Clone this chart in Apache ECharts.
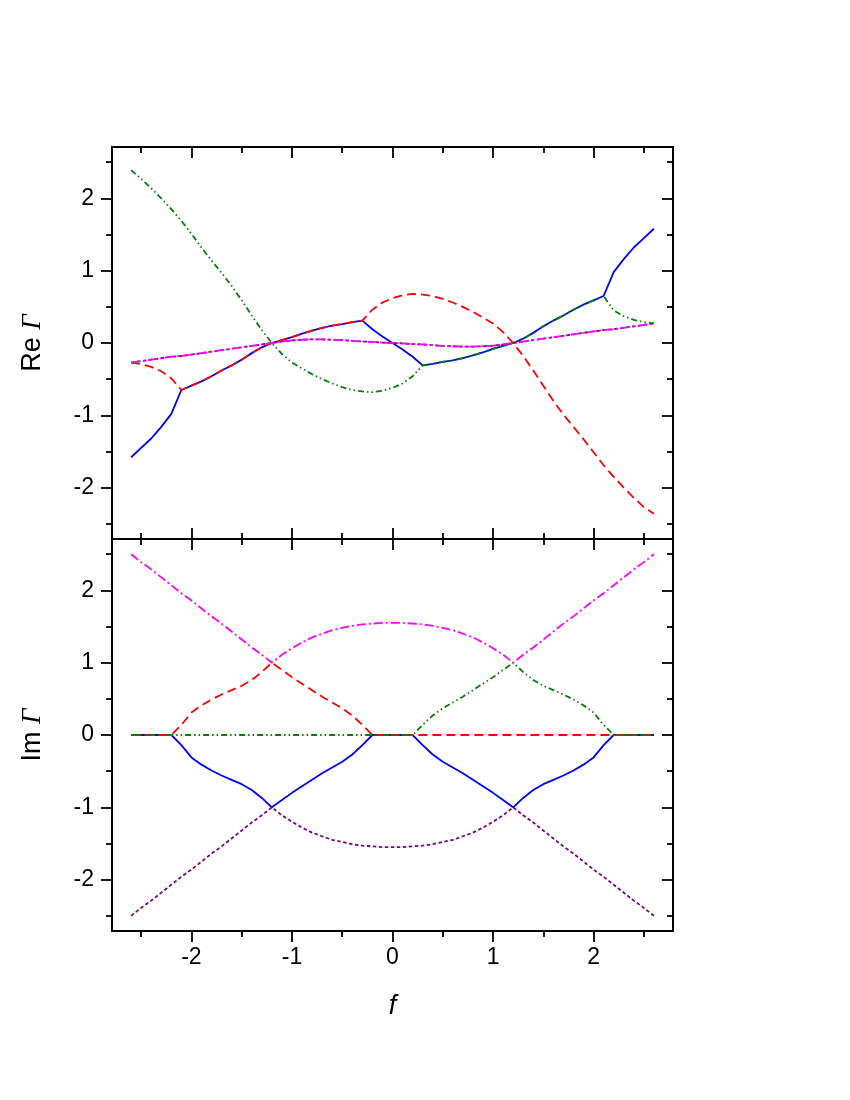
<!DOCTYPE html>
<html>
<head>
<meta charset="utf-8">
<script src="https://cdn.jsdelivr.net/npm/echarts@6/dist/echarts.min.js"></script>
<style>
html, body { margin: 0; background: #fff; }
#main { width: 850px; height: 1100px; }
</style>
</head>
<body>
<div id="main"></div>
<script>
// sample points of f
var xs = [-2.6,-2.5,-2.4,-2.3,-2.2,-2.1,-2.0,-1.9,-1.8,-1.7,-1.6,-1.5,-1.4,-1.3,-1.2,-1.1,-1.0,-0.9,-0.8,-0.7,-0.6,-0.5,-0.4,-0.3,-0.2,-0.1,
    0,
    0.1,0.2,0.3,0.4,0.5,0.6,0.7,0.8,0.9,1.0,1.1,1.2,1.3,1.4,1.5,1.6,1.7,1.8,1.9,2.0,2.1,2.2,2.3,2.4,2.5,2.6];

// Re Gamma
var reBlue = [-1.58,-1.45,-1.32,-1.16,-0.98, -0.65,-0.59,-0.53,-0.46,-0.38, -0.31,-0.23,-0.14,-0.06,0.00, 0.04,0.08,0.13,0.17,0.21, 0.24,0.26,0.29,0.31,0.19, 0.09,
    0.00,
    -0.09,-0.19,-0.31,-0.29,-0.26, -0.24,-0.21,-0.17,-0.13,-0.08, -0.04,0.00,0.06,0.14,0.23, 0.31,0.38,0.46,0.53,0.59, 0.65,0.98,1.16,1.32,1.45, 1.58];
var reRed = [-0.27,-0.29,-0.33,-0.39,-0.49, -0.65,-0.59,-0.53,-0.46,-0.38, -0.31,-0.23,-0.14,-0.06,0.00, 0.04,0.08,0.13,0.17,0.21, 0.24,0.26,0.29,0.31,0.46, 0.56,
    0.62,
    0.66,0.68,0.67,0.65,0.61, 0.56,0.50,0.43,0.35,0.27, 0.15,0.00,-0.18,-0.38,-0.59, -0.80,-0.99,-1.16,-1.33,-1.51, -1.69,-1.85,-2.00,-2.14,-2.27, -2.36];
var reGreen = [2.39,2.27,2.14,2.00,1.85, 1.69,1.51,1.32,1.14,0.97, 0.79,0.59,0.38,0.18,0.00, -0.15,-0.27,-0.35,-0.43,-0.50, -0.56,-0.61,-0.65,-0.67,-0.68, -0.66,
    -0.62,
    -0.56,-0.46,-0.31,-0.29,-0.26, -0.24,-0.21,-0.17,-0.13,-0.08, -0.04,0.00,0.06,0.14,0.23, 0.31,0.38,0.46,0.53,0.59, 0.65,0.45,0.37,0.32,0.29, 0.27];
var reMagenta = [-0.27,-0.25,-0.23,-0.21,-0.19, -0.18,-0.16,-0.14,-0.12,-0.10, -0.08,-0.06,-0.04,-0.02,0.00, 0.02,0.035,0.045,0.05,0.05, 0.045,0.04,0.03,0.02,0.015, 0.005,
    0,
    -0.005,-0.015,-0.02,-0.03,-0.04, -0.045,-0.05,-0.05,-0.045,-0.035, -0.02,0.00,0.02,0.04,0.06, 0.08,0.10,0.12,0.14,0.16, 0.18,0.19,0.21,0.23,0.25, 0.27];

// Im Gamma
var imMagenta = [2.50,2.39,2.29,2.18,2.07, 1.96,1.86,1.75,1.64,1.54, 1.43,1.32,1.21,1.11,1.00, 1.11,1.20,1.28,1.35,1.40, 1.45,1.48,1.51,1.53,1.54, 1.55,
    1.55,
    1.55,1.54,1.53,1.51,1.48, 1.45,1.40,1.35,1.28,1.20, 1.11,1.00,1.11,1.21,1.32, 1.43,1.54,1.64,1.75,1.86, 1.96,2.07,2.18,2.29,2.39, 2.50];
var imPurple = [-2.50,-2.39,-2.29,-2.18,-2.07, -1.96,-1.86,-1.75,-1.64,-1.54, -1.43,-1.32,-1.21,-1.11,-1.00, -1.11,-1.20,-1.28,-1.35,-1.40, -1.45,-1.48,-1.51,-1.53,-1.54, -1.55,
    -1.55,
    -1.55,-1.54,-1.53,-1.51,-1.48, -1.45,-1.40,-1.35,-1.28,-1.20, -1.11,-1.00,-1.11,-1.21,-1.32, -1.43,-1.54,-1.64,-1.75,-1.86, -1.96,-2.07,-2.18,-2.29,-2.39, -2.50];
var imRed = [0,0,0,0,0, 0.14,0.31,0.41,0.49,0.56, 0.62,0.68,0.76,0.87,1.00, 0.90,0.80,0.71,0.62,0.53, 0.45,0.37,0.27,0.14,0, 0,
    0,
    0,0,0,0,0, 0,0,0,0,0, 0,0,0,0,0, 0,0,0,0,0, 0,0,0,0,0, 0];
var imGreen = [0,0,0,0,0, 0,0,0,0,0, 0,0,0,0,0, 0,0,0,0,0, 0,0,0,0,0, 0,
    0,
    0,0,0.14,0.27,0.37, 0.45,0.53,0.62,0.71,0.80, 0.90,1.00,0.87,0.76,0.68, 0.62,0.56,0.49,0.41,0.31, 0.14,0,0,0,0, 0];
var imBlue = [0,0,0,0,0, -0.14,-0.31,-0.41,-0.49,-0.56, -0.62,-0.68,-0.76,-0.87,-1.00, -0.90,-0.80,-0.71,-0.62,-0.53, -0.45,-0.37,-0.27,-0.14,0, 0,
    0,
    0,0,-0.14,-0.27,-0.37, -0.45,-0.53,-0.62,-0.71,-0.80, -0.90,-1.00,-0.87,-0.76,-0.68, -0.62,-0.56,-0.49,-0.41,-0.31, -0.14,0,0,0,0, 0];

// tick positions
var majorTicks = [-2, -1, 0, 1, 2];
var minorTicks = [-2.5, -1.5, -0.5, 0.5, 1.5, 2.5];

var FONT = 'Liberation Sans, Arial, sans-serif';

function pairs(ys) {
    return xs.map(function (x, i) { return [x, ys[i]]; });
}

// one side of a panel: ticks only, unless labels asked for
function axis(grid, pos, ticks, len, inside, range, extra) {
    var a = {
        type: 'value',
        gridIndex: grid,
        position: pos,
        min: -range,
        max: range,
        axisLine: { show: false, onZero: false },
        splitLine: { show: false },
        axisTick: {
            show: true,
            inside: inside,
            length: len,
            customValues: ticks,
            lineStyle: { color: '#000', width: 1.8 }
        },
        axisLabel: { show: false }
    };
    if (extra) {
        for (var k in extra) a[k] = extra[k];
    }
    return a;
}

var xr = 2.79, yr = 2.71;
var labelX = { show: true, customValues: majorTicks, color: '#000', fontSize: 23, fontFamily: FONT, margin: 15 };
var labelY = { show: true, customValues: majorTicks, color: '#000', fontSize: 23, fontFamily: FONT, margin: 18 };

function yName(txt) {
    return {
        name: '{a|' + txt + ' }{b|Γ}',
        nameLocation: 'middle',
        nameRotate: 90,
        nameGap: 66,
        nameTextStyle: {
            rich: {
                a: { fontSize: 27, fontFamily: FONT, color: '#000' },
                b: { fontSize: 27, fontFamily: 'Liberation Serif, serif', fontStyle: 'italic', color: '#000' }
            }
        }
    };
}

var top0 = 147, h = 392, left = 112, w = 561;

function line(name, ys, color, type, xi, yi) {
    return {
        name: name,
        type: 'line',
        xAxisIndex: xi,
        yAxisIndex: yi,
        data: pairs(ys),
        showSymbol: false,
        symbol: 'none',
        lineStyle: { color: color, width: 1.8, type: type },
        silent: true,
        animation: false
    };
}

var dashRed = [9, 5], dashGreen = [6, 3, 1.5, 3, 1.5, 3], dashMag = [9, 3, 2, 3], dashPur = [3.5, 2.5];

var myChart = echarts.init(document.getElementById('main'));
var option = {
    backgroundColor: '#fff',
    animation: false,
    grid: [
        { left: left, top: top0, width: w, height: h, show: true, borderColor: '#000', borderWidth: 2, backgroundColor: 'transparent' },
        { left: left, top: top0 + h, width: w, height: h, show: true, borderColor: '#000', borderWidth: 2, backgroundColor: 'transparent' },
        { left: left, top: top0, width: w, height: h },
        { left: left, top: top0 + h, width: w, height: h }
    ],
    xAxis: [
        axis(0, 'bottom', majorTicks, 11, true, xr),
        axis(0, 'top', majorTicks, 11, true, xr),
        axis(1, 'top', majorTicks, 11, true, xr),
        axis(1, 'bottom', majorTicks, 11, false, xr, {
            axisLabel: labelX,
            name: 'f',
            nameLocation: 'middle',
            nameGap: 62,
            nameTextStyle: { fontSize: 27, fontFamily: FONT, fontStyle: 'italic', color: '#000' }
        }),
        axis(2, 'bottom', minorTicks, 6, true, xr),
        axis(2, 'top', minorTicks, 6, true, xr),
        axis(3, 'top', minorTicks, 6, true, xr),
        axis(3, 'bottom', minorTicks, 6, false, xr)
    ],
    yAxis: [
        axis(0, 'left', majorTicks, 11, false, yr, Object.assign({ axisLabel: labelY }, yName('Re'))),
        axis(0, 'right', majorTicks, 11, true, yr),
        axis(1, 'left', majorTicks, 11, false, yr, Object.assign({ axisLabel: labelY }, yName('Im'))),
        axis(1, 'right', majorTicks, 11, true, yr),
        axis(2, 'left', minorTicks, 6, false, yr),
        axis(2, 'right', minorTicks, 6, true, yr),
        axis(3, 'left', minorTicks, 6, false, yr),
        axis(3, 'right', minorTicks, 6, true, yr)
    ],
    series: [
        line('re blue', reBlue, '#0000ff', 'solid', 0, 0),
        line('re purple', reMagenta, '#800080', dashPur, 0, 0),
        line('re red', reRed, '#ff0000', dashRed, 0, 0),
        line('re green', reGreen, '#008000', dashGreen, 0, 0),
        line('re magenta', reMagenta, '#ff00ff', dashMag, 0, 0),

        line('im blue', imBlue, '#0000ff', 'solid', 3, 2),
        line('im purple', imPurple, '#800080', dashPur, 3, 2),
        line('im red', imRed, '#ff0000', dashRed, 3, 2),
        line('im green', imGreen, '#008000', dashGreen, 3, 2),
        line('im magenta', imMagenta, '#ff00ff', dashMag, 3, 2)
    ]
};
myChart.setOption(option);
</script>
</body>
</html>
